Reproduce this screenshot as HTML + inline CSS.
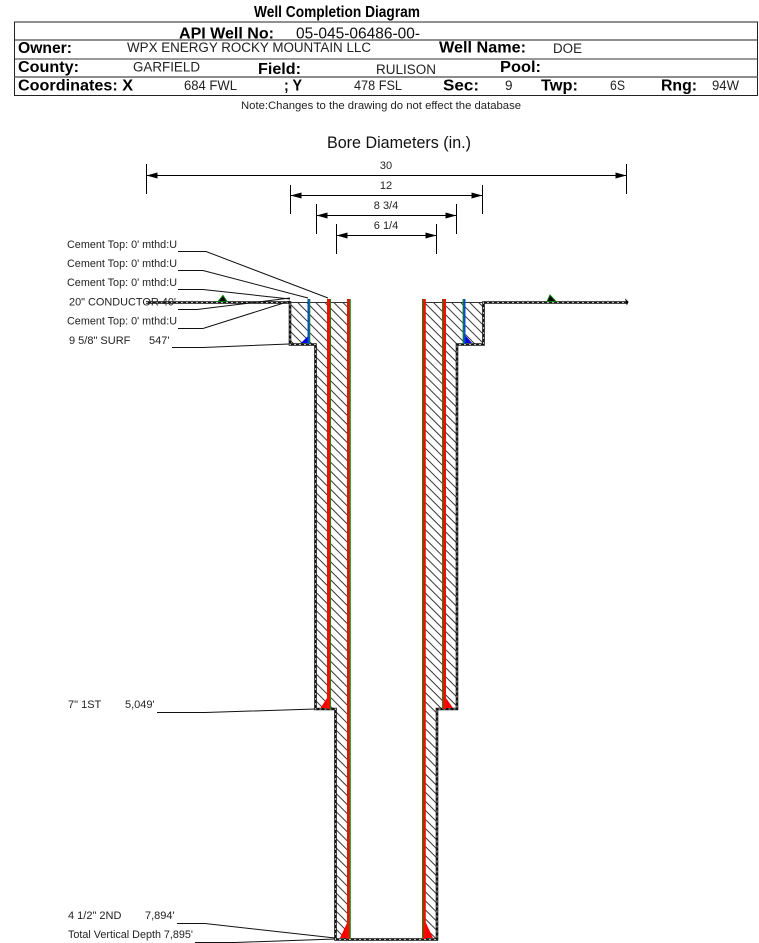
<!DOCTYPE html>
<html>
<head>
<meta charset="utf-8">
<style>
html,body{margin:0;padding:0;background:#fff;width:759px;height:943px;overflow:hidden}
svg{display:block}
text{font-family:"Liberation Sans",Arial,sans-serif;fill:#111}
.h{font-weight:bold;font-size:16px;fill:#000}
.v{font-size:13.5px;fill:#222}
.s{font-size:11px;fill:#222}
</style>
</head>
<body>
<svg width="759" height="943" viewBox="0 0 759 943" xmlns="http://www.w3.org/2000/svg">
<defs>
<pattern id="hatch" width="6.4" height="6.4" patternUnits="userSpaceOnUse" patternTransform="rotate(-45)">
<line x1="3" y1="0" x2="3" y2="6.4" stroke="#222" stroke-width="0.9"/>
</pattern>
<marker id="a" markerWidth="11" markerHeight="7" refX="10.5" refY="3" orient="auto-start-reverse" markerUnits="userSpaceOnUse">
<path d="M0,0 L11,3 L0,6 Z" fill="#000"/>
</marker>
</defs>

<!-- header -->
<text class="h" x="254" y="17" textLength="166" lengthAdjust="spacingAndGlyphs">Well Completion Diagram</text>
<rect x="14.5" y="22" width="743" height="73.5" fill="none" stroke="#222" stroke-width="1"/>
<line x1="14.5" y1="40" x2="757.5" y2="40" stroke="#222"/>
<line x1="14.5" y1="59" x2="757.5" y2="59" stroke="#333"/>
<line x1="14.5" y1="77" x2="757.5" y2="77" stroke="#666" stroke-width="1.6"/>

<text class="h" x="179" y="38.5" textLength="95" lengthAdjust="spacingAndGlyphs">API Well No:</text>
<text x="296" y="38.5" font-size="16" fill="#222" textLength="124" lengthAdjust="spacingAndGlyphs">05-045-06486-00-</text>

<text class="h" x="18" y="53" textLength="54" lengthAdjust="spacingAndGlyphs">Owner:</text>
<text class="v" x="127" y="52" textLength="244" lengthAdjust="spacingAndGlyphs">WPX ENERGY ROCKY MOUNTAIN LLC</text>
<text class="h" x="439" y="52.5" textLength="87" lengthAdjust="spacingAndGlyphs">Well Name:</text>
<text class="v" x="553" y="53" textLength="29" lengthAdjust="spacingAndGlyphs">DOE</text>

<text class="h" x="18" y="72" textLength="61" lengthAdjust="spacingAndGlyphs">County:</text>
<text class="v" x="133" y="71.5" textLength="67" lengthAdjust="spacingAndGlyphs">GARFIELD</text>
<text class="h" x="258" y="74" textLength="43" lengthAdjust="spacingAndGlyphs">Field:</text>
<text class="v" x="376" y="74" textLength="60" lengthAdjust="spacingAndGlyphs">RULISON</text>
<text class="h" x="500" y="72" textLength="41" lengthAdjust="spacingAndGlyphs">Pool:</text>

<text class="h" x="18" y="90.5" textLength="115" lengthAdjust="spacingAndGlyphs">Coordinates: X</text>
<text class="v" x="184" y="90" textLength="53" lengthAdjust="spacingAndGlyphs">684 FWL</text>
<text class="h" x="284" y="90.5" textLength="18" lengthAdjust="spacingAndGlyphs">; Y</text>
<text class="v" x="354" y="90" textLength="48" lengthAdjust="spacingAndGlyphs">478 FSL</text>
<text class="h" x="443" y="90.5" textLength="36" lengthAdjust="spacingAndGlyphs">Sec:</text>
<text class="v" x="505" y="90">9</text>
<text class="h" x="541" y="90.5" textLength="37" lengthAdjust="spacingAndGlyphs">Twp:</text>
<text class="v" x="610" y="90" textLength="15" lengthAdjust="spacingAndGlyphs">6S</text>
<text class="h" x="661" y="90.5" textLength="36" lengthAdjust="spacingAndGlyphs">Rng:</text>
<text class="v" x="712" y="90" textLength="27" lengthAdjust="spacingAndGlyphs">94W</text>

<text class="s" x="241" y="109" textLength="280" lengthAdjust="spacingAndGlyphs">Note:Changes to the drawing do not effect the database</text>

<text x="327" y="148" font-size="16.5" fill="#222" textLength="144" lengthAdjust="spacingAndGlyphs">Bore Diameters (in.)</text>

<!-- dimensions -->
<g stroke="#000" stroke-width="1" fill="none">
<line x1="146.5" y1="164" x2="146.5" y2="194"/>
<line x1="626.5" y1="164" x2="626.5" y2="194"/>
<line x1="147" y1="175.5" x2="626" y2="175.5" marker-start="url(#a)" marker-end="url(#a)"/>
<line x1="290.5" y1="185" x2="290.5" y2="214"/>
<line x1="482.5" y1="185" x2="482.5" y2="214"/>
<line x1="291" y1="195.5" x2="482" y2="195.5" marker-start="url(#a)" marker-end="url(#a)"/>
<line x1="316.5" y1="204" x2="316.5" y2="234"/>
<line x1="456.5" y1="204" x2="456.5" y2="234"/>
<line x1="317" y1="215.5" x2="456" y2="215.5" marker-start="url(#a)" marker-end="url(#a)"/>
<line x1="336.5" y1="224" x2="336.5" y2="254"/>
<line x1="436.5" y1="224" x2="436.5" y2="254"/>
<line x1="337" y1="235.5" x2="436" y2="235.5" marker-start="url(#a)" marker-end="url(#a)"/>
</g>
<text class="s" x="386" y="169" text-anchor="middle">30</text>
<text class="s" x="386" y="189" text-anchor="middle">12</text>
<text class="s" x="386" y="209" text-anchor="middle">8 3/4</text>
<text class="s" x="386" y="229" text-anchor="middle">6 1/4</text>

<!-- hatch -->
<path d="M290,302.5 H349 V939 H335.5 V709 H315.5 V344.5 H290 Z" fill="url(#hatch)"/>
<path d="M424,302.5 H483 V344.5 H457 V709 H437 V939 H424 Z" fill="url(#hatch)"/>

<!-- borehole walls -->
<g fill="none">
<path d="M146,302.5 H290 V344.5 H315.5 V709 H335.5 V939.5 H437 V709 H457 V344.5 H483.5 V302.5 H627" stroke="#111" stroke-width="2.6"/>
<path d="M146,302.5 H290 V344.5 H315.5 V709 H335.5 V939.5 H437 V709 H457 V344.5 H483.5 V302.5 H627" stroke="#bbb" stroke-width="1" stroke-dasharray="2 3"/>
</g>
<line x1="349" y1="302.5" x2="424" y2="302.5" stroke="#fff" stroke-width="3"/>
<line x1="290" y1="302.5" x2="349" y2="302.5" stroke="#333" stroke-width="1"/>
<line x1="424" y1="302.5" x2="483" y2="302.5" stroke="#333" stroke-width="1"/>
<path d="M626,300 L628,302 L627,304 Z" fill="#000" stroke="#000"/>

<!-- ground triangles -->
<path d="M218,301.5 L223,295.5 L227,301.5 Z" fill="#000" stroke="#0a7a0a" stroke-width="1"/>
<path d="M547,301.5 L550,295 L556,301.5 Z" fill="#000" stroke="#0a7a0a" stroke-width="1"/>

<!-- shoes -->
<path d="M301,343 L309,335 V343 Z" fill="#0000e0"/>
<path d="M465,335 L472,343 H465 Z" fill="#0000e0"/>
<path d="M320.5,708 L327,698 H329 V708 Z" fill="#f00"/>
<path d="M444,698 H446 L453,708 H444 Z" fill="#f00"/>
<path d="M340,938 L347,923 H350 V938 Z" fill="#f00"/>
<path d="M423,923 H426 L433,938 H423 Z" fill="#f00"/>

<!-- casings -->
<rect x="307.5" y="299" width="2" height="45" fill="#0050c8"/><rect x="309.5" y="299" width="0.8" height="45" fill="#1a8a1a"/>
<rect x="463.5" y="299" width="2" height="45" fill="#0050c8"/><rect x="462.6" y="299" width="0.9" height="45" fill="#1a8a1a"/>

<rect x="327" y="299" width="3" height="410" fill="#f01000"/><rect x="330" y="299" width="1" height="410" fill="#128a12"/>
<rect x="443" y="299" width="3" height="410" fill="#f01000"/><rect x="442" y="299" width="1" height="410" fill="#128a12"/>

<rect x="347" y="299" width="2.5" height="640" fill="#f01000"/><rect x="349.5" y="299" width="1.3" height="640" fill="#128a12"/>
<rect x="423" y="299" width="2.8" height="640" fill="#f01000"/><rect x="422" y="299" width="1" height="640" fill="#128a12"/>

<!-- leaders -->
<g fill="none" stroke="#111" stroke-width="1">
<path d="M178,251.5 H206 L328,298"/>
<path d="M178,270.5 H203 L308,298"/>
<path d="M178,289.5 H203 L290,299"/>
<path d="M178,309.5 H197 L290,298"/>
<path d="M178,328.5 H203 L290,301"/>
<path d="M172,347.5 H203 L289,344"/>
<path d="M157,712.5 H205 L315,709"/>
<path d="M177,923.5 H205 L335,938"/>
<path d="M195,942.5 H235 L335,939"/>
</g>

<!-- labels -->
<text class="s" x="67" y="248" textLength="110" lengthAdjust="spacingAndGlyphs">Cement Top: 0' mthd:U</text>
<text class="s" x="67" y="267" textLength="110" lengthAdjust="spacingAndGlyphs">Cement Top: 0' mthd:U</text>
<text class="s" x="67" y="286" textLength="110" lengthAdjust="spacingAndGlyphs">Cement Top: 0' mthd:U</text>
<text class="s" x="69" y="305.5" textLength="107" lengthAdjust="spacingAndGlyphs">20" CONDUCTOR  40'</text>
<text class="s" x="67" y="324.5" textLength="110" lengthAdjust="spacingAndGlyphs">Cement Top: 0' mthd:U</text>
<text class="s" x="69" y="344">9 5/8" SURF</text>
<text class="s" x="149" y="344">547'</text>
<text class="s" x="68" y="708">7" 1ST</text>
<text class="s" x="125" y="708">5,049'</text>
<text class="s" x="68" y="919">4 1/2" 2ND</text>
<text class="s" x="145" y="919">7,894'</text>
<text class="s" x="68" y="938" textLength="125" lengthAdjust="spacingAndGlyphs">Total Vertical Depth 7,895'</text>
</svg>
</body>
</html>
